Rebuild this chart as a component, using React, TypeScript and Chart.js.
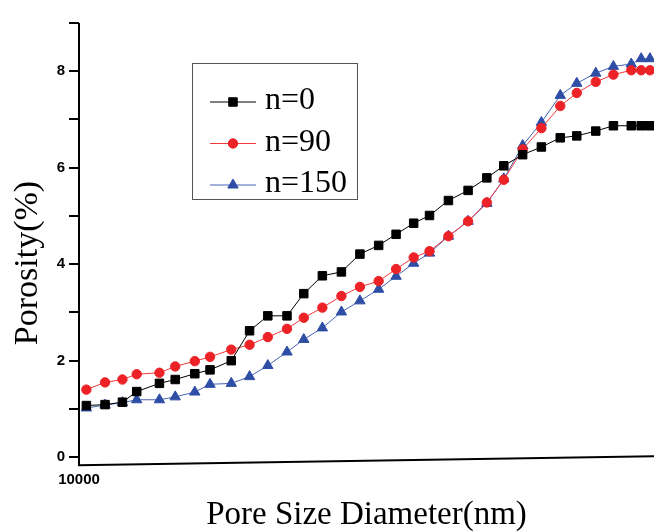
import React, { useEffect, useRef } from 'react';
import { Chart, registerables } from 'chart.js';
import { drawPoint } from 'chart.js/helpers';

Chart.register(...registerables);

// Pore size diameter (nm), log axis
const poreDiameter = [
  10300, 11100, 11900, 12600, 13800, 14700, 15900, 16900, 18400, 19800,
  21300, 23000, 24600, 26500, 28600, 30800, 33200, 35600, 38200, 40700,
  43900, 47500, 51200, 54800, 59100, 63700, 68700, 73400, 79200, 85000,
  91300, 95000, 98400,
];

// Porosity (%)
const porosityN0 = [
  1.07, 1.09, 1.14, 1.36, 1.53, 1.61, 1.73, 1.81, 2.0, 2.62,
  2.93, 2.93, 3.39, 3.76, 3.84, 4.21, 4.39, 4.62, 4.85, 5.01,
  5.32, 5.53, 5.79, 6.04, 6.27, 6.43, 6.62, 6.66, 6.76, 6.87,
  6.87, 6.87, 6.87,
];
const porosityN90 = [
  1.4, 1.55, 1.61, 1.72, 1.75, 1.88, 1.99, 2.08, 2.23, 2.33,
  2.49, 2.66, 2.89, 3.1, 3.34, 3.53, 3.65, 3.9, 4.14, 4.27,
  4.58, 4.89, 5.28, 5.75, 6.38, 6.82, 7.28, 7.55, 7.78, 7.93,
  8.02, 8.02, 8.02,
];
const porosityN150 = [
  1.02, 1.08, 1.13, 1.19, 1.19, 1.25, 1.35, 1.51, 1.53, 1.67,
  1.9, 2.18, 2.44, 2.68, 3.01, 3.24, 3.48, 3.75, 4.02, 4.23,
  4.58, 4.89, 5.26, 5.77, 6.46, 6.94, 7.5, 7.75, 7.96, 8.1,
  8.15, 8.26, 8.26,
];

const seriesLabels = ['n=0', 'n=90', 'n=150'];
const seriesColors = ['#000000', '#ec2227', '#2e4ea6'];
const lineColors = ['#000000', '#f03a3a', '#4862b4'];
const seriesStyles = ['rect', 'circle', 'triangle'];
const seriesRadius = [6, 4.7, 6];

const xTickValues = [10000];
const yTickValues = [0, 1, 2, 3, 4, 5, 6, 7, 8, 9];
const yLabelValues = [0, 2, 4, 6, 8];

const xTitle = 'Pore Size Diameter(nm)';
const yTitle = 'Porosity(%)';

const serif = "'Liberation Serif', 'Times New Roman', serif";
const sans = "'Liberation Sans', Arial, sans-serif";

const decorPlugin = {
  id: 'decor',
  afterDraw(chart: any) {
    const ctx = chart.ctx;
    const ca = chart.chartArea;
    const ys = chart.scales.y;
    ctx.save();
    // axis lines
    ctx.strokeStyle = '#000';
    ctx.lineWidth = 2;
    ctx.beginPath();
    ctx.moveTo(ca.left, ys.getPixelForValue(9));
    ctx.lineTo(ca.left, ys.getPixelForValue(-0.17));
    ctx.stroke();
    ctx.beginPath();
    ctx.moveTo(ca.left - 1, ys.getPixelForValue(-0.165));
    ctx.lineTo(ca.right, ys.getPixelForValue(0.02));
    ctx.stroke();
    // y tick marks
    ctx.lineWidth = 2;
    yTickValues.forEach((v) => {
      const py = Math.round(ys.getPixelForValue(v));
      ctx.beginPath();
      ctx.moveTo(ca.left - 10, py);
      ctx.lineTo(ca.left, py);
      ctx.stroke();
    });

    // y title
    ctx.fillStyle = '#000';
    ctx.font = `34px ${serif}`;
    ctx.textAlign = 'center';
    ctx.textBaseline = 'middle';
    ctx.translate(28.5, 263);
    ctx.rotate(-Math.PI / 2);
    ctx.fillText(yTitle, 0, 0);
    ctx.restore();

    // legend
    ctx.save();
    const bx = 192.5, by = 63.5, bw = 165, bh = 136;
    ctx.strokeStyle = '#555';
    ctx.lineWidth = 1;
    ctx.strokeRect(bx, by, bw, bh);
    const rows = [102, 143.5, 185];
    chart.data.datasets.forEach((ds: any, i: number) => {
      const y = rows[i];
      ctx.strokeStyle = lineColors[i];
      ctx.lineWidth = 1;
      ctx.beginPath();
      ctx.moveTo(210, y);
      ctx.lineTo(256, y);
      ctx.stroke();
      ctx.fillStyle = seriesColors[i];
      ctx.strokeStyle = seriesColors[i];
      drawPoint(ctx, { pointStyle: seriesStyles[i], radius: seriesRadius[i], rotation: 0, borderWidth: 1 } as any, 233, y);
      ctx.fillStyle = '#000';
      ctx.font = `32px ${serif}`;
      ctx.textAlign = 'left';
      ctx.textBaseline = 'middle';
      ctx.fillText(ds.label, 265, y - 1);
    });
    ctx.restore();
  },
};

export default function App() {
  const ref = useRef<HTMLCanvasElement | null>(null);

  useEffect(() => {
    if (!ref.current) return;
    const series = [porosityN0, porosityN90, porosityN150];
    const chart = new Chart(ref.current, {
      type: 'line',
      data: {
        datasets: series.map((vals, i) => ({
          label: seriesLabels[i],
          data: poreDiameter.map((x, j) => ({ x, y: vals[j] })),
          borderColor: lineColors[i],
          backgroundColor: seriesColors[i],
          borderWidth: 1,
          pointStyle: seriesStyles[i] as any,
          pointRadius: seriesRadius[i],
          pointBorderWidth: 1,
          pointBorderColor: seriesColors[i],
          pointBackgroundColor: seriesColors[i],
          tension: 0,
          fill: false,
        })),
      },
      options: {
        animation: false,
        responsive: false,
        devicePixelRatio: 1,
        layout: { padding: { top: 20.5, left: 0, right: 0, bottom: 0 } },
        plugins: {
          legend: { display: false },
          tooltip: { enabled: false },
        },
        scales: {
          x: {
            type: 'logarithmic',
            min: 10000,
            max: 100000,
            border: { display: false },
            grid: { display: false, drawTicks: false },
            afterBuildTicks: (s: any) => {
              s.ticks = xTickValues.map((v) => ({ value: v }));
            },
            afterFit: (s: any) => {
              s.height = 70;
            },
            ticks: {
              autoSkip: false,
              maxRotation: 0,
              padding: 9,
              color: '#000',
              font: { family: sans, size: 15, weight: 'bold' },
              callback: (v: any) => String(v),
            },
            title: {
              display: true,
              text: xTitle,
              color: '#000',
              font: { family: serif, size: 33, lineHeight: 1 },
              padding: { top: 0, bottom: 0 },
            },
          },
          y: {
            type: 'linear',
            min: -0.1,
            max: 9,
            border: { display: false },
            grid: { display: false, drawTicks: false },
            afterBuildTicks: (s: any) => {
              s.ticks = yTickValues.map((v) => ({ value: v }));
            },
            afterFit: (s: any) => {
              s.width = 79;
            },
            ticks: {
              autoSkip: false,
              padding: 14,
              color: '#000',
              font: { family: sans, size: 15, weight: 'bold' },
              callback: (v: any) => (yLabelValues.includes(Number(v)) ? String(v) : ''),
            },
          },
        },
      },
      plugins: [decorPlugin],
    });
    return () => chart.destroy();
  }, []);

  return (
    <div style={{ position: 'absolute', left: 0, top: 0, width: 661, height: 532, background: '#fff' }}>
      <canvas ref={ref} width={661} height={532} />
    </div>
  );
}
